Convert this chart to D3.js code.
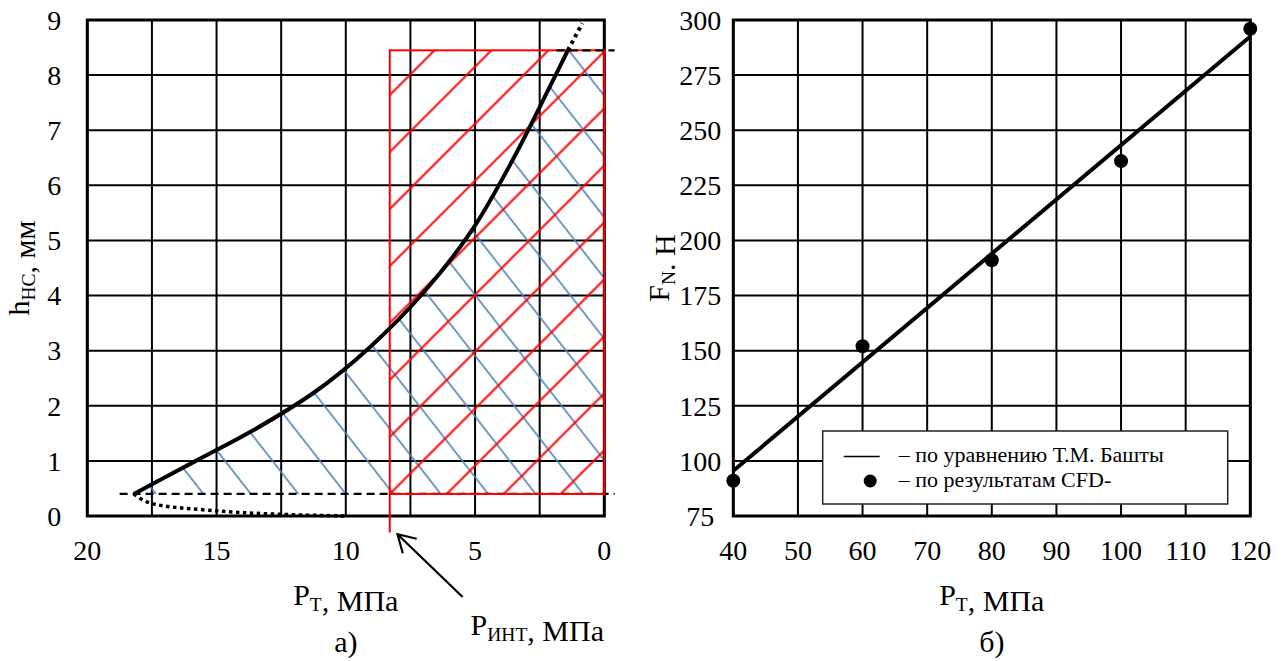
<!DOCTYPE html>
<html>
<head>
<meta charset="utf-8">
<script src="https://cdn.jsdelivr.net/npm/d3@7"></script>
<style>
  body { margin: 0; background: #fff; }
</style>
</head>
<body>
<div id="plot"></div>
<script>
// ---- а) left chart: film height vs pressure ----
const curveP = [18.2, 15.8, 13.6, 11.2, 9.1, 7.0, 5.1, 3.5, 2.15, 1.41];
const curveH = [0.4, 1.0, 1.55, 2.25, 3.05, 4.05, 5.2, 6.5, 7.75, 8.45];
const dotTopP = [1.41, 0.85];
const dotTopH = [8.45, 8.94];
const dotLowP = [18.2, 17.6, 14.9, 12.5, 10];
const dotLowH = [0.4, 0.24, 0.09, 0.03, 0];
const hLow = 0.4, hHigh = 8.45;        // dashed levels
const lowDashP = [18.75, -0.4];
const highDashP = [1.85, -0.4];
const pInt = 8.3;                      // P_INT line
const pIntBottom = -0.3;
const arrowFrom = [5.48, -1.47], arrowTo = [8.0, -0.33];
const leftXGrid = [20, 17.5, 15, 12.5, 10, 7.5, 5, 2.5, 0];
const leftXTicks = [20, 15, 10, 5, 0];
const leftYTicks = [0, 1, 2, 3, 4, 5, 6, 7, 8, 9];

// ---- б) right chart: force vs pressure ----
const cfdP = [40, 60, 80, 100, 120];
const cfdF = [91, 152, 191, 236, 296];
const eqP = [40, 120];
const eqF = [95.5, 292.5];
const rightXTicks = [40, 50, 60, 70, 80, 90, 100, 110, 120];
const rightYTicks = [75, 100, 125, 150, 175, 200, 225, 250, 275, 300];
const legendLabels = ["– по уравнению Т.М. Башты", "– по результатам CFD-"];

const width = 517, height = 496;
const top0 = 20;
const serif = "'Liberation Serif', 'Times New Roman', serif";

const svg = d3.select("#plot").append("svg")
  .attr("width", 1283)
  .attr("height", 661)
  .attr("font-family", serif);
svg.append("rect").attr("width", 1283).attr("height", 661).attr("fill", "#fff");
const defs = svg.append("defs");

function hatch(id, color, sw, spacing, angle, px, py) {
  const p = defs.append("pattern")
    .attr("id", id)
    .attr("patternUnits", "userSpaceOnUse")
    .attr("width", spacing)
    .attr("height", spacing)
    .attr("patternTransform", "translate(" + px + "," + py + ") rotate(" + angle + ") translate(" + (-spacing / 2) + ",0)");
  p.append("line")
    .attr("x1", spacing / 2).attr("x2", spacing / 2)
    .attr("y1", -1).attr("y2", spacing + 1)
    .attr("stroke", color).attr("stroke-width", sw);
}

defs.append("marker")
  .attr("id", "arrow")
  .attr("viewBox", "0 -12 22 24")
  .attr("refX", 20).attr("refY", 0)
  .attr("markerWidth", 22).attr("markerHeight", 24)
  .attr("markerUnits", "userSpaceOnUse")
  .attr("orient", "auto")
  .append("path")
  .attr("d", "M3,-10L20,0L3,10")
  .attr("fill", "none")
  .attr("stroke", "#000")
  .attr("stroke-width", 2.2);

function grid(g, x, y, xs, ys) {
  g.selectAll(".gx").data(xs).enter().append("line")
    .attr("x1", d => x(d)).attr("x2", d => x(d))
    .attr("y1", 0).attr("y2", height)
    .attr("stroke", "#000").attr("stroke-width", 2);
  g.selectAll(".gy").data(ys).enter().append("line")
    .attr("x1", 0).attr("x2", width)
    .attr("y1", d => y(d)).attr("y2", d => y(d))
    .attr("stroke", "#000").attr("stroke-width", 2);
}

function frame(g) {
  g.append("rect")
    .attr("width", width).attr("height", height)
    .attr("fill", "none").attr("stroke", "#000").attr("stroke-width", 3);
}

function tickLabels(g, x, y, xs, ys) {
  g.selectAll(".tx").data(xs).enter().append("text")
    .attr("x", d => x(d)).attr("y", height + 44)
    .attr("text-anchor", "middle").attr("font-size", 28)
    .attr("font-family", serif)
    .text(d => d);
  g.selectAll(".ty").data(ys).enter().append("text")
    .attr("x", -33).attr("y", d => y(d)).attr("dy", "0.35em")
    .attr("text-anchor", "middle").attr("font-size", 28)
    .attr("font-family", serif)
    .text(d => d);
}

// text with a subscript part
function subText(g, x, y, parts, size, anchor) {
  const t = g.append("text").attr("x", x).attr("y", y)
    .attr("text-anchor", anchor || "middle").attr("font-size", size)
    .attr("font-family", serif);
  parts.forEach(p => {
    if (p.sub) {
      t.append("tspan").attr("font-size", size * 0.65).attr("dy", 6).text(p.sub);
      t.append("tspan").attr("dy", -6).text("");
    } else {
      t.append("tspan").text(p.t);
    }
  });
  return t;
}

// ================= left chart =================
const left = svg.append("g").attr("transform", "translate(87.3," + top0 + ")");
const xL = d3.scaleLinear().domain([20, 0]).range([0, width]);
const yL = d3.scaleLinear().domain([0, 9]).range([height, 0]);

grid(left, xL, yL, leftXGrid, leftYTicks);

const curve = curveP.map((p, i) => [p, curveH[i]]);
const lineL = d3.line().x(d => xL(d[0])).y(d => yL(d[1])).curve(d3.curveCatmullRom.alpha(0.5));
const straightL = d3.line().x(d => xL(d[0])).y(d => yL(d[1]));

hatch("blueHatch", "#4f81bd", 1.6, 37.4, -38, xL(10), yL(hLow));
hatch("redHatch", "#ff0000", 2, 40.3, 45, xL(pInt), yL(hLow));

// blue area: under the curve, right up to P = 0
left.append("path")
  .attr("d", lineL(curve) + "L" + xL(0) + "," + yL(hHigh) + "L" + xL(0) + "," + yL(hLow) + "Z")
  .attr("fill", "url(#blueHatch)");

// red area: P below P_INT
left.append("rect")
  .attr("x", xL(pInt)).attr("y", yL(hHigh))
  .attr("width", xL(0) - xL(pInt)).attr("height", yL(hLow) - yL(hHigh))
  .attr("fill", "url(#redHatch)");

frame(left);

left.append("path")
  .attr("d", straightL(lowDashP.map(p => [p, hLow])))
  .attr("fill", "none").attr("stroke", "#000").attr("stroke-width", 2.2)
  .attr("stroke-dasharray", "8,5");

left.append("rect")
  .attr("x", xL(pInt)).attr("y", yL(hHigh))
  .attr("width", xL(0) - xL(pInt)).attr("height", yL(hLow) - yL(hHigh))
  .attr("fill", "none").attr("stroke", "#ff0000").attr("stroke-width", 2);

left.append("path")
  .attr("d", straightL([[pInt, hLow], [pInt, pIntBottom]]))
  .attr("stroke", "#ff0000").attr("stroke-width", 2);

left.append("path")
  .attr("d", straightL(highDashP.map(p => [p, hHigh])))
  .attr("fill", "none").attr("stroke", "#000").attr("stroke-width", 2.2)
  .attr("stroke-dasharray", "8,5");

left.append("path")
  .attr("d", lineL(curve))
  .attr("fill", "none").attr("stroke", "#000").attr("stroke-width", 4);

left.append("path")
  .attr("d", straightL(dotTopP.map((p, i) => [p, dotTopH[i]])))
  .attr("fill", "none").attr("stroke", "#000").attr("stroke-width", 4)
  .attr("stroke-dasharray", "3.5,4");

left.append("path")
  .attr("d", lineL(dotLowP.map((p, i) => [p, dotLowH[i]])))
  .attr("fill", "none").attr("stroke", "#000").attr("stroke-width", 3.5)
  .attr("stroke-dasharray", "3.5,3.5");

left.append("path")
  .attr("d", straightL([arrowFrom, arrowTo]))
  .attr("stroke", "#000").attr("stroke-width", 2.2)
  .attr("marker-end", "url(#arrow)");

tickLabels(left, xL, yL, leftXTicks, leftYTicks);

subText(left, width / 2, height + 89, [{ t: "P" }, { sub: "Т" }, { t: ", МПа" }], 30);
subText(left, 450, height + 119, [{ t: "P" }, { sub: "ИНТ" }, { t: ", МПа" }], 30);
left.append("text").attr("x", width / 2).attr("y", height + 136)
  .attr("text-anchor", "middle").attr("font-size", 30).attr("font-family", serif).text("а)");

const titleL = subText(left, 0, 0, [{ t: "h" }, { sub: "НС" }, { t: ", мм" }], 30);
titleL.attr("transform", "translate(-58," + height / 2 + ") rotate(-90)");

// ================= right chart =================
const right = svg.append("g").attr("transform", "translate(733.3," + top0 + ")");
const xR = d3.scaleLinear().domain([40, 120]).range([0, width]);
const yR = d3.scaleLinear().domain([75, 300]).range([height, 0]);

grid(right, xR, yR, rightXTicks, rightYTicks);
frame(right);

const lineR = d3.line().x(d => xR(d[0])).y(d => yR(d[1]));
right.append("path")
  .attr("d", lineR(eqP.map((p, i) => [p, eqF[i]])))
  .attr("fill", "none").attr("stroke", "#000").attr("stroke-width", 4);

right.selectAll(".cfd").data(cfdP.map((p, i) => [p, cfdF[i]])).enter().append("circle")
  .attr("cx", d => xR(d[0])).attr("cy", d => yR(d[1])).attr("r", 7)
  .attr("fill", "#000");

tickLabels(right, xR, yR, rightXTicks, rightYTicks);

// legend
const lg = right.append("g").attr("transform", "translate(89.4,411)");
lg.append("rect").attr("width", 405).attr("height", 73)
  .attr("fill", "#fff").attr("stroke", "#222").attr("stroke-width", 1.5);
lg.append("line").attr("x1", 21).attr("x2", 57).attr("y1", 25.5).attr("y2", 25.5)
  .attr("stroke", "#000").attr("stroke-width", 1.5);
lg.append("circle").attr("cx", 47.5).attr("cy", 50).attr("r", 6.5).attr("fill", "#000");
lg.selectAll(".lt").data(legendLabels).enter().append("text")
  .attr("x", 76).attr("y", (d, i) => 31 + i * 24.5)
  .attr("font-size", 22).attr("font-family", serif)
  .text(d => d);

subText(right, width / 2, height + 89, [{ t: "P" }, { sub: "Т" }, { t: ", МПа" }], 30);
right.append("text").attr("x", width / 2).attr("y", height + 136)
  .attr("text-anchor", "middle").attr("font-size", 30).attr("font-family", serif).text("б)");

const titleR = subText(right, 0, 0, [{ t: "F" }, { sub: "N" }, { t: ". Н" }], 30);
titleR.attr("transform", "translate(-64," + height / 2 + ") rotate(-90)");
</script>
</body>
</html>
